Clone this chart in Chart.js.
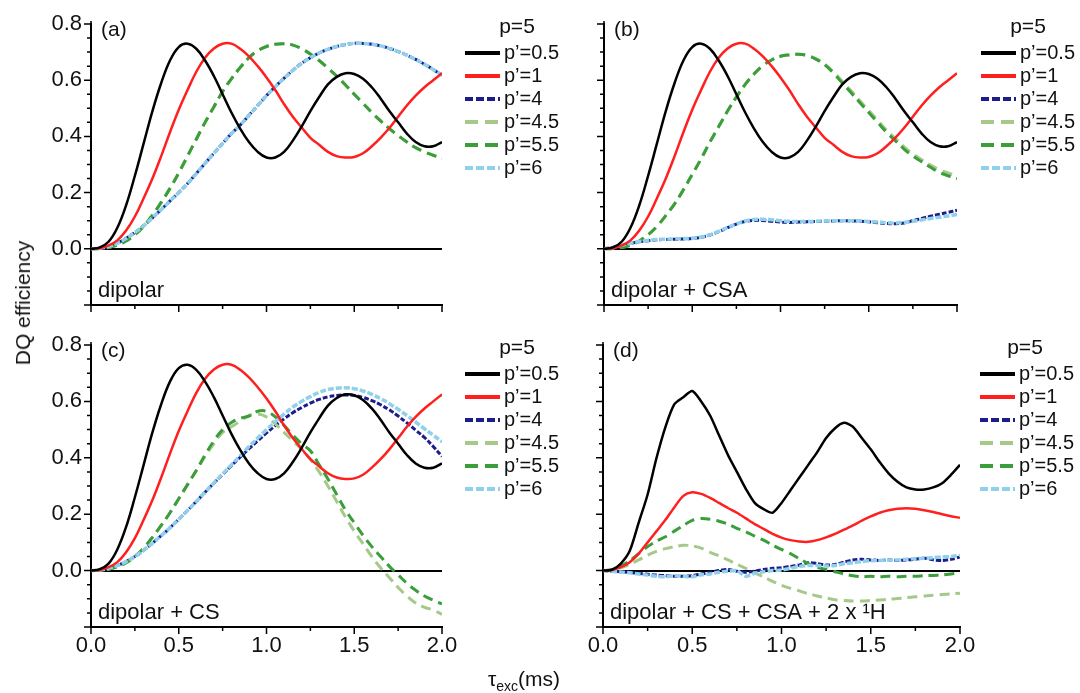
<!DOCTYPE html>
<html>
<head>
<meta charset="utf-8">
<script src="https://cdn.jsdelivr.net/npm/chart.js@4.4.1/dist/chart.umd.min.js"></script>
<style>
  html, body { margin: 0; padding: 0; background: #fff; }
  #wrap { position: relative; width: 1080px; height: 693px; overflow: hidden; background: #fff; }
  #wrap canvas { position: absolute; left: 0; top: 0; }
  .axis-title { position: absolute; font-family: 'Liberation Sans', Arial, sans-serif; font-size: 21px; color: #111; white-space: nowrap; }
  #ytitle { left: 23px; top: 303px; transform: translate(-50%, -50%) rotate(-90deg); }
  #xtitle { left: 524px; top: 679px; transform: translate(-50%, -50%); }
  #xtitle sub { font-size: 14px; vertical-align: -5px; line-height: 0; }
</style>
</head>
<body>
<div id="wrap">
  <canvas id="panelA" width="1080" height="693"></canvas>
  <canvas id="panelB" width="1080" height="693"></canvas>
  <canvas id="panelC" width="1080" height="693"></canvas>
  <canvas id="panelD" width="1080" height="693"></canvas>
  <div class="axis-title" id="ytitle">DQ efficiency</div>
  <div class="axis-title" id="xtitle">τ<sub>exc</sub>(ms)</div>
</div>
<script>
"use strict";
// excitation time (ms), shared by every curve
const tau = [0, 0.05, 0.1, 0.15, 0.2, 0.25, 0.3, 0.35, 0.4, 0.45, 0.5, 0.55, 0.6, 0.65, 0.7, 0.75, 0.8, 0.85, 0.9, 0.95,
    1.0, 1.05, 1.1, 1.15, 1.2, 1.25, 1.3, 1.35, 1.4, 1.45, 1.5, 1.55, 1.6, 1.65, 1.7, 1.75, 1.8, 1.85, 1.9, 1.95, 2.0];
const yTicks = [-0.2, -0.15, -0.1, -0.05, 0, 0.05, 0.1, 0.15, 0.2, 0.25, 0.3, 0.35, 0.4, 0.45, 0.5, 0.55, 0.6, 0.65, 0.7, 0.75, 0.8];
const yLabelValues = [0, 0.2, 0.4, 0.6, 0.8];
const xTicks = [0, 0.25, 0.5, 0.75, 1.0, 1.25, 1.5, 1.75, 2.0];
const xLabelValues = [0, 0.5, 1.0, 1.5, 2.0];
const legendLabels = ['p’=0.5', 'p’=1', 'p’=4', 'p’=4.5', 'p’=5.5', 'p’=6'];

// (a) dipolar only (p'=4 lies under p'=6, p'=4.5 under p'=5.5)
const dipBlack = [0, 0.005, 0.025, 0.075, 0.155, 0.26, 0.375, 0.49, 0.59, 0.67, 0.718, 0.73, 0.712, 0.67, 0.615, 0.55, 0.485, 0.428, 0.38, 0.345,
    0.325, 0.325, 0.345, 0.385, 0.435, 0.49, 0.54, 0.585, 0.612, 0.625, 0.622, 0.605, 0.575, 0.535, 0.49, 0.45, 0.41, 0.38, 0.365, 0.365, 0.38];
const dipRed = [0, 0.002, 0.012, 0.03, 0.065, 0.115, 0.18, 0.25, 0.33, 0.415, 0.495, 0.565, 0.63, 0.68, 0.713, 0.73, 0.73, 0.712, 0.685, 0.65,
    0.61, 0.565, 0.515, 0.47, 0.432, 0.395, 0.37, 0.345, 0.33, 0.325, 0.327, 0.34, 0.365, 0.395, 0.43, 0.47, 0.51, 0.545, 0.575, 0.6, 0.625];
const dipGreen = [0, 0.001, 0.005, 0.013, 0.028, 0.05, 0.08, 0.12, 0.165, 0.215, 0.27, 0.33, 0.39, 0.45, 0.505, 0.56, 0.605, 0.645, 0.68, 0.705,
    0.72, 0.728, 0.73, 0.725, 0.712, 0.693, 0.67, 0.643, 0.615, 0.583, 0.55, 0.518, 0.485, 0.455, 0.428, 0.403, 0.38, 0.36, 0.345, 0.333, 0.322];
const dipCyan = [0, 0.002, 0.008, 0.02, 0.037, 0.058, 0.082, 0.11, 0.14, 0.17, 0.2, 0.232, 0.268, 0.304, 0.34, 0.375, 0.41, 0.44, 0.475, 0.51,
    0.545, 0.577, 0.607, 0.635, 0.66, 0.68, 0.697, 0.71, 0.72, 0.727, 0.731, 0.731, 0.728, 0.722, 0.713, 0.702, 0.689, 0.674, 0.657, 0.638, 0.618];

// (b) dipolar + CSA
const csaNavy = [0, 0.005, 0.012, 0.019, 0.025, 0.029, 0.032, 0.033, 0.034, 0.035, 0.037, 0.041, 0.049, 0.061, 0.075, 0.088, 0.097, 0.101, 0.101, 0.098,
    0.095, 0.094, 0.095, 0.096, 0.097, 0.098, 0.099, 0.1, 0.099, 0.098, 0.096, 0.093, 0.09, 0.089, 0.092, 0.1, 0.108, 0.116, 0.123, 0.13, 0.137];
const csaLightGreen = [0, 0.001, 0.005, 0.013, 0.028, 0.05, 0.08, 0.118, 0.16, 0.21, 0.265, 0.32, 0.38, 0.435, 0.49, 0.54, 0.585, 0.622, 0.652, 0.672,
    0.685, 0.69, 0.692, 0.688, 0.677, 0.658, 0.63, 0.596, 0.562, 0.527, 0.492, 0.458, 0.423, 0.393, 0.363, 0.338, 0.317, 0.298, 0.281, 0.27, 0.26];
const csaGreen = [0, 0.001, 0.005, 0.013, 0.028, 0.05, 0.08, 0.118, 0.16, 0.21, 0.265, 0.32, 0.38, 0.435, 0.49, 0.54, 0.585, 0.622, 0.652, 0.672,
    0.685, 0.69, 0.692, 0.688, 0.675, 0.655, 0.625, 0.59, 0.555, 0.52, 0.485, 0.45, 0.415, 0.385, 0.355, 0.33, 0.31, 0.29, 0.272, 0.26, 0.25];
const csaCyan = [0, 0.005, 0.013, 0.02, 0.026, 0.03, 0.033, 0.034, 0.035, 0.036, 0.038, 0.042, 0.05, 0.062, 0.076, 0.089, 0.099, 0.104, 0.105, 0.103,
    0.1, 0.098, 0.097, 0.097, 0.098, 0.099, 0.1, 0.1, 0.1, 0.099, 0.097, 0.095, 0.093, 0.092, 0.094, 0.098, 0.103, 0.108, 0.112, 0.117, 0.122];

// (c) dipolar + CS
const csNavy = [0, 0.002, 0.008, 0.018, 0.032, 0.05, 0.072, 0.097, 0.124, 0.152, 0.182, 0.213, 0.245, 0.278, 0.31, 0.341, 0.372, 0.402, 0.432, 0.46,
    0.488, 0.514, 0.538, 0.56, 0.578, 0.594, 0.607, 0.616, 0.621, 0.623, 0.621, 0.614, 0.603, 0.588, 0.57, 0.548, 0.524, 0.498, 0.472, 0.44, 0.405];
const csLightGreen = [0, 0.001, 0.005, 0.013, 0.028, 0.05, 0.08, 0.118, 0.16, 0.205, 0.255, 0.305, 0.355, 0.405, 0.45, 0.49, 0.51, 0.53, 0.55, 0.555,
    0.545, 0.52, 0.49, 0.46, 0.43, 0.395, 0.35, 0.3, 0.245, 0.19, 0.14, 0.095, 0.05, 0.01, -0.025, -0.06, -0.09, -0.115, -0.13, -0.14, -0.155];
const csGreen = [0, 0.001, 0.005, 0.013, 0.028, 0.05, 0.08, 0.118, 0.16, 0.205, 0.255, 0.305, 0.355, 0.41, 0.46, 0.5, 0.525, 0.54, 0.548, 0.565,
    0.565, 0.545, 0.515, 0.48, 0.45, 0.425, 0.375, 0.325, 0.27, 0.215, 0.17, 0.125, 0.085, 0.05, 0.015, -0.015, -0.045, -0.07, -0.09, -0.105, -0.118];
const csCyan = [0, 0.002, 0.008, 0.018, 0.032, 0.05, 0.072, 0.097, 0.124, 0.152, 0.182, 0.213, 0.245, 0.278, 0.311, 0.343, 0.375, 0.407, 0.44, 0.47,
    0.5, 0.528, 0.555, 0.58, 0.6, 0.617, 0.632, 0.642, 0.647, 0.648, 0.645, 0.637, 0.625, 0.61, 0.592, 0.572, 0.55, 0.527, 0.503, 0.48, 0.457];

// (d) dipolar + CS + CSA + 2 x 1H
const allBlack = [0, 0.003, 0.025, 0.07, 0.17, 0.27, 0.4, 0.51, 0.59, 0.615, 0.637, 0.6, 0.55, 0.48, 0.41, 0.35, 0.29, 0.24, 0.218, 0.205,
    0.24, 0.285, 0.33, 0.375, 0.42, 0.47, 0.505, 0.524, 0.51, 0.47, 0.43, 0.385, 0.345, 0.315, 0.295, 0.288, 0.288, 0.295, 0.31, 0.34, 0.375];
const allRed = [0, 0.002, 0.012, 0.03, 0.06, 0.1, 0.14, 0.18, 0.225, 0.265, 0.278, 0.272, 0.258, 0.24, 0.222, 0.205, 0.185, 0.165, 0.148, 0.13,
    0.117, 0.108, 0.103, 0.102, 0.108, 0.118, 0.13, 0.145, 0.16, 0.177, 0.192, 0.205, 0.214, 0.219, 0.221, 0.219, 0.214, 0.208, 0.2, 0.193, 0.187];
const allNavy = [0, -0.002, -0.004, -0.006, -0.01, -0.013, -0.016, -0.018, -0.02, -0.02, -0.018, -0.012, -0.006, 0, 0.004, -0.002, -0.006, -0.002, 0.004, 0.008,
    0.01, 0.015, 0.02, 0.028, 0.025, 0.02, 0.022, 0.03, 0.038, 0.04, 0.038, 0.036, 0.038, 0.036, 0.038, 0.04, 0.044, 0.038, 0.036, 0.04, 0.048];
const allLightGreen = [0, 0.002, 0.01, 0.022, 0.038, 0.055, 0.068, 0.078, 0.085, 0.09, 0.088, 0.08, 0.065, 0.052, 0.038, 0.022, 0.008, -0.008, -0.022, -0.038,
    -0.052, -0.063, -0.072, -0.082, -0.09, -0.097, -0.103, -0.106, -0.108, -0.108, -0.106, -0.104, -0.102, -0.099, -0.096, -0.093, -0.09, -0.087, -0.085, -0.083, -0.08];
const allGreen = [0, 0.003, 0.015, 0.035, 0.06, 0.085, 0.105, 0.12, 0.14, 0.16, 0.178, 0.185, 0.182, 0.175, 0.165, 0.15, 0.138, 0.122, 0.108, 0.09,
    0.075, 0.06, 0.042, 0.025, 0.012, 0.004, -0.004, -0.012, -0.018, -0.022, -0.02, -0.022, -0.02, -0.022, -0.02, -0.02, -0.018, -0.017, -0.015, -0.012, -0.008];
const allCyan = [0, -0.002, -0.005, -0.008, -0.012, -0.016, -0.02, -0.022, -0.018, -0.02, -0.022, -0.015, -0.012, -0.006, -0.002, 0, -0.02, -0.01, -0.004, 0,
    0.002, 0.008, 0.015, 0.018, 0.018, 0.016, 0.018, 0.024, 0.028, 0.032, 0.035, 0.036, 0.037, 0.038, 0.04, 0.042, 0.044, 0.046, 0.048, 0.05, 0.054];

const FONT = '"Liberation Sans", Arial, sans-serif';
Chart.defaults.font.family = FONT;
Chart.defaults.color = '#111';

// line look of each series, same order as legendLabels; lower order is drawn on top
const seriesStyle = [
    { color: '#000000', width: 2.5, dash: [], legendWidth: 4, legendDash: [], order: 0 },
    { color: '#ff1f1f', width: 2.5, dash: [], legendWidth: 4, legendDash: [], order: 1 },
    { color: '#1c1c8c', width: 3, dash: [5, 2], legendWidth: 4, legendDash: [8, 3], order: 5 },
    { color: '#a6c98a', width: 3, dash: [10, 6], legendWidth: 4, legendDash: [13, 7], order: 4 },
    { color: '#3a9e3a', width: 3, dash: [10, 6], legendWidth: 4, legendDash: [13, 7], order: 3 },
    { color: '#8fd0ea', width: 3.5, dash: [6, 2], legendWidth: 4, legendDash: [8, 3], order: 2 }
];

const panels = [
    { canvas: 'panelA', box: { left: 91, right: 442, top: 24, bottom: 305 }, yLabels: true, xLabels: false, tension: 0.4,
      tag: '(a)', note: 'dipolar', legend: { x: 465, titleX: 517, y: 27 },
      series: [dipBlack, dipRed, dipCyan, dipGreen, dipGreen, dipCyan] },
    { canvas: 'panelB', box: { left: 604, right: 957, top: 24, bottom: 305 }, yLabels: false, xLabels: false, tension: 0.4,
      tag: '(b)', note: 'dipolar + CSA', legend: { x: 981, titleX: 1028, y: 27 },
      series: [dipBlack, dipRed, csaNavy, csaLightGreen, csaGreen, csaCyan] },
    { canvas: 'panelC', box: { left: 91, right: 442, top: 345, bottom: 627 }, yLabels: true, xLabels: true, tension: 0.4,
      tag: '(c)', note: 'dipolar + CS', legend: { x: 465, titleX: 517, y: 348 },
      series: [dipBlack, dipRed, csNavy, csLightGreen, csGreen, csCyan] },
    { canvas: 'panelD', box: { left: 603, right: 960, top: 345, bottom: 627 }, yLabels: false, xLabels: true, tension: 0.25,
      tag: '(d)', note: 'dipolar + CS + CSA + 2 x \u00b9H', legend: { x: 980, titleX: 1025, y: 348 },
      series: [allBlack, allRed, allNavy, allLightGreen, allGreen, allCyan] }
];

function onGrid(v, list) {
    return list.some(l => Math.abs(l - v) < 1e-6);
}

// major / minor tick marks pointing outward, like the original plot
const tickMarks = {
    id: 'tickMarks',
    afterDraw(chart) {
        const { ctx, chartArea: a, scales: { x, y } } = chart;
        ctx.save();
        ctx.strokeStyle = '#000';
        ctx.lineWidth = 1.5;
        ctx.beginPath();
        yTicks.forEach(v => {
            const py = y.getPixelForValue(v);
            const len = onGrid(v, [-0.2, 0, 0.2, 0.4, 0.6, 0.8]) ? 7 : 4;
            ctx.moveTo(a.left, py);
            ctx.lineTo(a.left - len, py);
        });
        xTicks.forEach(v => {
            const px = x.getPixelForValue(v);
            const len = onGrid(v, xLabelValues) ? 7 : 4;
            ctx.moveTo(px, a.bottom);
            ctx.lineTo(px, a.bottom + len);
        });
        // axis runs a little past 0.8
        ctx.moveTo(a.left, a.top);
        ctx.lineTo(a.left, a.top - 3);
        ctx.stroke();
        ctx.restore();
    }
};

// panel tag, interaction note and the "p=5" legend at the right of each panel
function panelDecor(p) {
    return {
        id: 'panelDecor',
        afterDraw(chart) {
            const { ctx, chartArea: a } = chart;
            ctx.save();
            ctx.fillStyle = '#111';
            ctx.textBaseline = 'middle';
            ctx.font = '21px ' + FONT;
            ctx.fillText(p.tag, a.left + 10, a.top + 6);
            ctx.font = '22px ' + FONT;
            ctx.fillText(p.note, a.left + 7, a.bottom - 14);
            const L = p.legend;
            ctx.font = '21px ' + FONT;
            ctx.textAlign = 'center';
            ctx.fillText('p=5', L.titleX, L.y);
            ctx.textAlign = 'left';
            ctx.font = '20px ' + FONT;
            seriesStyle.forEach((s, i) => {
                const ry = L.y + 26 + i * 23;
                ctx.strokeStyle = s.color;
                ctx.lineWidth = s.legendWidth;
                ctx.setLineDash(s.legendDash);
                ctx.beginPath();
                ctx.moveTo(L.x, ry);
                ctx.lineTo(L.x + 35, ry);
                ctx.stroke();
                ctx.fillText(legendLabels[i], L.x + 39, ry);
            });
            ctx.restore();
        }
    };
}

panels.forEach(p => {
    const yW = p.yLabels ? 70 : 10;
    const xH = p.xLabels ? 40 : 12;
    const datasets = seriesStyle.map((s, i) => ({
        label: legendLabels[i],
        data: tau.map((t, j) => ({ x: t, y: p.series[i][j] })),
        borderColor: s.color,
        borderWidth: s.width,
        borderDash: s.dash,
        pointRadius: 0,
        fill: false,
        order: s.order,
        tension: p.tension
    }));
    new Chart(document.getElementById(p.canvas), {
        type: 'line',
        data: { datasets: datasets },
        options: {
            responsive: false,
            animation: false,
            devicePixelRatio: 1,
            layout: {
                padding: { left: p.box.left - yW, right: 1080 - p.box.right, top: p.box.top, bottom: 693 - p.box.bottom - xH }
            },
            plugins: { legend: { display: false }, tooltip: { enabled: false } },
            scales: {
                x: {
                    type: 'linear', min: 0, max: 2,
                    afterFit: s => { s.height = xH; },
                    afterBuildTicks: s => { s.ticks = xTicks.map(v => ({ value: v })); },
                    ticks: {
                        display: p.xLabels, autoSkip: false, maxRotation: 0, padding: 6,
                        color: '#111', font: { size: 22 },
                        callback: v => onGrid(v, xLabelValues) ? v.toFixed(1) : ''
                    },
                    grid: { display: true, drawOnChartArea: false, drawTicks: false },
                    border: { display: true, color: '#000', width: 2 }
                },
                y: {
                    type: 'linear', min: -0.2, max: 0.8,
                    afterFit: s => { s.width = yW; },
                    afterBuildTicks: s => { s.ticks = yTicks.map(v => ({ value: v })); },
                    ticks: {
                        display: p.yLabels, autoSkip: false, padding: 9,
                        color: '#111', font: { size: 22 },
                        callback: v => onGrid(v, yLabelValues) ? v.toFixed(1) : ''
                    },
                    grid: {
                        drawTicks: false,
                        lineWidth: 2,
                        color: c => (c.tick && Math.abs(c.tick.value) < 1e-9) ? '#000' : 'rgba(0,0,0,0)'
                    },
                    border: { display: true, color: '#000', width: 2 }
                }
            }
        },
        plugins: [tickMarks, panelDecor(p)]
    });
});
</script>
</body>
</html>
